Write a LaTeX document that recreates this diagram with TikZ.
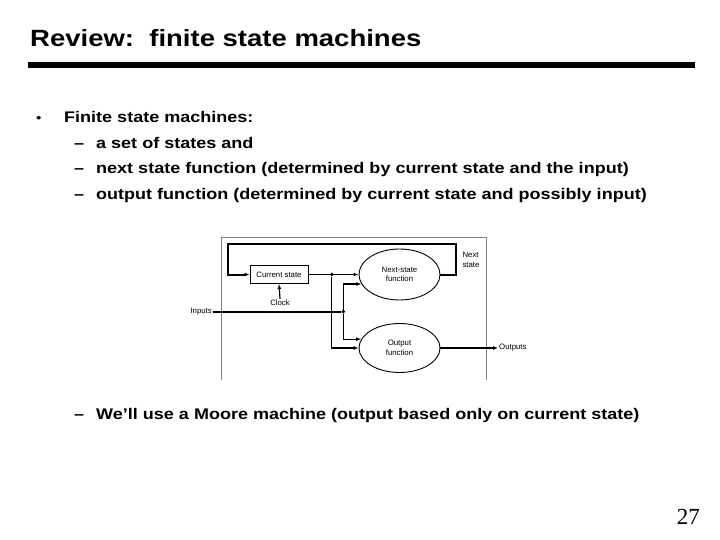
\documentclass[tikz,border=0pt]{standalone}
\usepackage{fontspec}
\setmainfont{Liberation Sans}[FakeStretch=1.17]
\newfontfamily\labelfont{Liberation Sans}
\newfontfamily\pagefont{Liberation Serif}
\usetikzlibrary{positioning, arrows.meta, shapes.geometric}
\tikzset{
    headline/.style={anchor=base west, inner sep=0pt, font=\fontsize{23.5}{28}\selectfont\bfseries},
    itemtext/.style={anchor=base west, inner sep=0pt, font=\fontsize{15.4}{18}\selectfont\bfseries},
    statebox/.style={draw, line width=0.9pt, minimum width=58pt, minimum height=18pt, inner sep=0pt, font=\labelfont\fontsize{7.8}{9}\selectfont},
    funcellipse/.style={draw, ellipse, line width=0.9pt, minimum width=81pt, minimum height=51pt, inner sep=0pt, align=center, font=\labelfont\fontsize{7.8}{9.5}\selectfont},
    tag/.style={inner sep=1pt, align=left, font=\labelfont\fontsize{7.8}{10}\selectfont},
    wire/.style={line width=1.2pt},
    loopwire/.style={line width=2pt},
    bus/.style={line width=2.4pt},
    frame/.style={draw=gray, line width=1pt},
    junction/.style={circle, fill, inner sep=0pt, minimum size=3.8pt}
}

\begin{document}
\begin{tikzpicture}[x=1pt, y=-1pt, >={Latex[length=5pt, width=4pt]}]
  \path[use as bounding box] (0,0) rectangle (720,540);
  % heading and rule
  \node(title)[headline] at (30,46.7) {Review:\ \ finite state machines};
  \fill (28,62) rectangle (695,68);
  % bullet list
  \node(dot)[itemtext, font=\fontsize{13}{18}\selectfont] at (36,122.5) {•};
  \node(fsm)[itemtext] at (64,122.5) {Finite state machines:};
  \foreach \txt [count=\i] in {{a set of states and},
      {next state function (determined by current state and the input)},
      {output function (determined by current state and possibly input)}}{
    \node(dash\i)[itemtext] at (74,{122.5+25.7*\i}) {--};
    \node(sub\i)[itemtext] at (96,{122.5+25.7*\i}) {\txt};
  }
  % the machine
  \draw[frame] (221.5,380) -- (221.5,237) -- (486.5,237) -- (486.5,380);
  \node(cur)[statebox] at (279,274.5) {Current state};
  \node(nsf)[funcellipse] at (399.5,274.5) {Next-state\\function};
  \node(outf)[funcellipse, minimum height=49pt] at (399.5,348) {Output\\function};
  \node(clk)[tag] at (280,303) {Clock};
  \node(inp)[tag, anchor=east] at (213,311.7) {Inputs};
  \node(outp)[tag, anchor=west] at (498,348) {Outputs};
  \node(nxt)[tag] at (471,259.5) {Next\\state};
  \node(sj)[junction] at (331.7,274.5) {};
  \node(ij)[junction] at (343.3,311.7) {};
  \coordinate(tr) at (456,244);
  \coordinate(tl) at (228,244);
  \draw[loopwire] (nsf.east) -| (tr) -- (tl) |- ([xshift=-5pt]cur.west);
  \draw[wire,->] ([xshift=-6pt]cur.west) -- (cur.west);
  \draw[wire,->] (cur.east) -- (nsf.west);
  \draw[wire,->] (sj) |- (outf.west);
  \draw[bus] (inp.east) -- (ij);
  \draw[wire,->] (ij) |- (nsf.194);
  \draw[wire,->] (ij) |- (outf.167);
  \draw[wire,->] (clk.north) -- (cur.south);
  \draw[wire,->] (outf.east) -- (outp.west);
  % closing remark
  \node(dash4)[itemtext] at (74,419) {--};
  \node(moore)[itemtext] at (96,419) {We’ll use a Moore machine (output based only on current state)};
  \node(pg)[anchor=base east, inner sep=0pt, font=\pagefont\fontsize{23}{26}\selectfont] at (700,524) {27};
\end{tikzpicture}
\end{document}
